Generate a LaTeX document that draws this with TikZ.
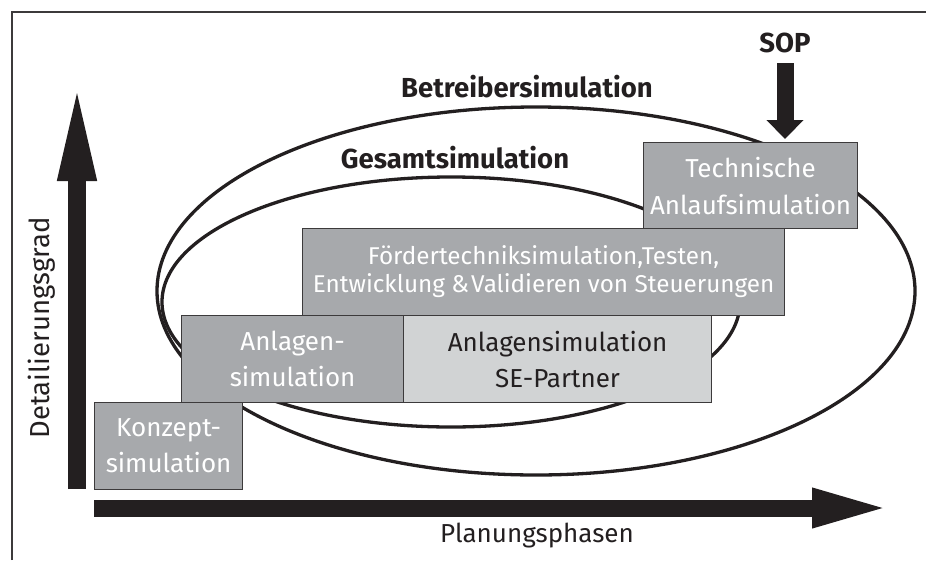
\documentclass[tikz,border=0pt]{standalone}
\usepackage{fontspec}
\setmainfont{Fira Sans}
\usetikzlibrary{arrows.meta,shapes.geometric}
\definecolor{ink}{HTML}{231F20}
\definecolor{stepdark}{HTML}{A7A9AC}
\definecolor{steplight}{HTML}{D1D3D4}
\definecolor{edge}{HTML}{3C3A3B}
\begin{document}
\begin{tikzpicture}[x=1pt,y=-1pt,
  stage/.style={draw=edge, line width=1.2pt, fill=stepdark, text=white,
    align=center, inner sep=0pt, anchor=north west,
    font=\fontsize{26}{36}\selectfont},
  stagelight/.style={stage, fill=steplight, text=ink},
  simring/.style={draw=ink, line width=3.3pt, ellipse, inner sep=0pt},
  ringlabel/.style={font=\bfseries\fontsize{27.5}{30}\selectfont, text=ink,
    anchor=base, inner sep=0pt},
  axislabel/.style={font=\fontsize{26}{30}\selectfont, text=ink,
    anchor=base, inner sep=0pt},
  axisarrow/.style={draw=ink, line width=18pt, line cap=butt}
]
\useasboundingbox (0,0) rectangle (926,560);

% frame (top and left edges)
\draw[draw=edge, line width=1.5pt] (12,560) -- (12,12) -- (926,12);

% simulation scopes
\node[simring, minimum width=758pt, minimum height=368pt] (betreiber) at (536,291) {};
\node[simring, minimum width=578pt, minimum height=250pt] (gesamt) at (451,302) {};

% axes
\coordinate (ytail) at (77,489);
\coordinate (ytip) at (77,78);
\draw[axisarrow, -{Triangle[length=103pt,width=34pt]}] (ytail) -- (ytip);
\coordinate (xtail) at (94,508);
\coordinate (xtip) at (892,508);
\draw[axisarrow, line width=17pt, -{Triangle[length=80pt,width=35pt]}] (xtail) -- (xtip);

\node[axislabel, rotate=90, font=\fontsize{27.5}{30}\selectfont] (detail) at (49,328) {Detailierungsgrad};
\node[axislabel] (phasen) at (537,542) {Planungsphasen};

% planning stages
\node[stage, minimum width=148pt, minimum height=87pt] (konzept) at (94,402) {Konzept-\\simulation};
\node[stage, minimum width=222pt, minimum height=87pt] (anlagen) at (181,315) {Anlagen-\\simulation};
\node[stagelight, minimum width=308pt, minimum height=87pt] (partner) at (403,315) {Anlagensimulation\\SE-Partner};
\node[stage, minimum width=482pt, minimum height=87pt, font=\fontsize{24.3}{28}\selectfont] (foerder) at (302,228)
  {Fördertechniksimulation,Testen,\\Entwicklung \&\kern2pt Validieren von Steuerungen};
\node[stage, minimum width=214pt, minimum height=86pt, font=\fontsize{26}{37}\selectfont] (technik) at (643,142) {Technische\\Anlaufsimulation};

% scope labels
\node[ringlabel] (betrlabel) at (527,97) {Betreibersimulation};
\node[ringlabel] (gesamtlabel) at (455,168) {Gesamtsimulation};

% start of production
\node[ringlabel] (sop) at (785,52) {SOP};
\coordinate (soptail) at (785,63);
\draw[draw=ink, line width=17pt, line cap=butt, shorten >=3pt,
  -{Triangle[length=19pt,width=36pt]}] (soptail) -- (soptail |- technik.north);
\end{tikzpicture}
\end{document}
